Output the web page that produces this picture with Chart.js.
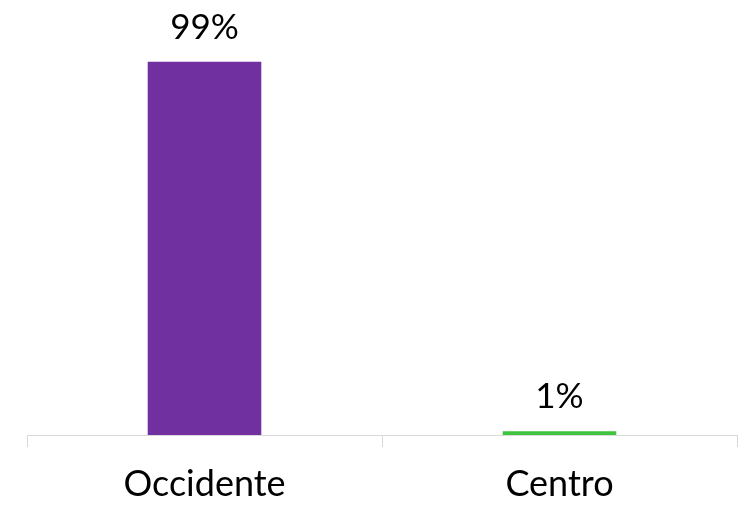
<!DOCTYPE html>
<html>
<head>
<meta charset="utf-8">
<script src="https://cdn.jsdelivr.net/npm/chart.js@4"></script>
<style>
html,body{margin:0;padding:0;background:#fff;}
#wrap{width:738px;height:508px;position:relative;}
</style>
</head>
<body>
<div id="wrap"><canvas id="c"></canvas></div>
<script>
const categories = ['Occidente', 'Centro'];
const values = [99, 1];
const barColors = ['#7030A0', '#3EC43E'];
const valueLabels = ['99%', '1%'];

const FONT = 'Lato, "Noto Sans", sans-serif';

const labelPlugin = {
  id: 'valueLabels',
  afterDatasetsDraw(chart) {
    const ctx = chart.ctx;
    const meta = chart.getDatasetMeta(0);
    ctx.save();
    ctx.fillStyle = '#000';
    ctx.font = '35px ' + FONT;
    ctx.textAlign = 'center';
    ctx.textBaseline = 'alphabetic';
    meta.data.forEach((bar, i) => {
      ctx.fillText(valueLabels[i], bar.x, bar.y - 23);
    });
    ctx.restore();
  }
};

new Chart(document.getElementById('c'), {
  type: 'bar',
  data: {
    labels: categories,
    datasets: [{
      data: values,
      backgroundColor: barColors,
      borderWidth: 0,
      barPercentage: 0.64,
      categoryPercentage: 0.5
    }]
  },
  options: {
    responsive: true,
    maintainAspectRatio: false,
    animation: false,
    layout: { padding: { top: 58, left: 27, right: 1, bottom: 0 } },
    plugins: { legend: { display: false }, tooltip: { enabled: false } },
    scales: {
      x: {
        afterFit(scale) { scale.height = 73; },
        grid: { drawOnChartArea: false, drawTicks: true, tickLength: 12, color: '#d9d9d9', offset: true },
        border: { color: '#d9d9d9', width: 1 },
        ticks: { color: '#000', font: { family: FONT, size: 36 }, padding: 16 }
      },
      y: { display: false, min: 0, max: 100 }
    }
  },
  plugins: [labelPlugin]
});
</script>
</body>
</html>
